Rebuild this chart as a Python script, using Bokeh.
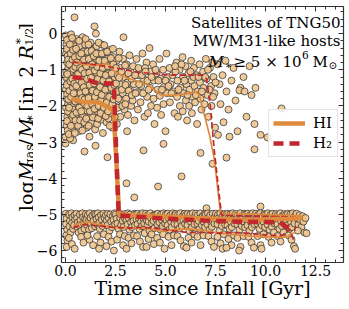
import math
from bokeh.plotting import figure
from bokeh.layouts import row
from bokeh.models import (Label, Legend, LegendItem, LinearAxis, SingleIntervalTicker, FixedTicker, Range1d)
from bokeh.embed import file_html
from bokeh.resources import INLINE

FONT = "DejaVu Serif"
ORANGE = "#de8b3e"
RED = "#c1272d"

# ---------------- data ----------------
# satellites with substantial gas (upper cloud)
upper_pts = [
    (0.02,-0.05),(0.05,-0.3),(0.03,-0.55),(0.08,-0.8),(0.04,-1.05),(0.1,-1.3),(0.02,-1.55),(0.06,-1.8),(0.03,-2.05),(0.09,-2.3),
    (0.05,-2.55),(0.0,-2.85),(0.15,-0.15),(0.18,-0.45),(0.2,-0.7),(0.14,-0.95),(0.22,-1.2),(0.16,-1.45),(0.2,-1.7),(0.13,-1.95),
    (0.21,-2.2),(0.17,-2.45),(0.24,-2.7),(0.28,-0.02),(0.3,-0.35),(0.32,-0.6),(0.27,-0.88),(0.35,-1.1),(0.3,-1.37),(0.33,-1.62),
    (0.26,-1.88),(0.36,-2.12),(0.29,-2.38),(0.34,-2.62),(0.4,-0.22),(0.43,-0.5),(0.45,0.45),(0.41,-0.78),(0.47,-1.02),(0.42,-1.25),
    (0.48,-1.52),(0.44,-1.77),(0.4,-2.0),(0.46,-2.28),(0.43,-2.52),(0.38,-2.95),(0.1,-0.62),(0.25,-1.05),(0.08,-1.68),(0.37,-1.8),
    (0.12,-2.15),(0.06,-0.42),(0.31,-0.82),(0.19,-1.58),(0.45,-2.1),(0.23,-2.9),(0.48,-0.35),(0.11,-2.68),(0.36,-1.48),(0.02,-1.2),
    (0.55,-0.15),(0.6,-0.55),(0.58,-0.95),(0.62,-1.3),(0.57,-1.65),(0.64,-2.0),(0.59,-2.35),(0.66,-2.7),(0.7,-0.35),(0.74,-0.75),
    (0.72,-1.1),(0.78,-1.48),(0.71,-1.85),(0.76,-2.2),(0.8,-2.5),(0.85,-0.1),(0.88,-0.5),(0.84,-0.9),(0.9,-1.25),(0.86,-1.62),
    (0.92,-1.98),(0.87,-2.3),(0.98,-0.3),(1.0,-0.7),(1.03,-1.05),(0.99,-1.4),(1.05,-1.78),(1.02,-2.12),(1.06,-2.6),(1.1,-0.5),
    (1.14,-0.88),(1.12,-1.22),(1.17,-1.58),(1.13,-1.95),(1.18,-2.32),(1.2,-2.85),(1.25,-0.25),(1.27,-0.65),(1.24,-1.0),(1.3,-1.38),
    (1.26,-1.75),(1.32,-2.1),(1.29,-2.45),(1.38,-0.45),(1.4,-0.82),(1.36,-1.18),(1.42,-1.55),(1.39,-1.92),(1.44,-2.25),(1.45,0.2),
    (1.48,-2.65),(0.68,-1.48),
    (1.52,0.0),(1.55,-0.35),(1.58,-0.72),(1.53,-1.08),(1.6,-1.42),(1.56,-1.8),(1.62,-2.15),(1.58,-2.5),(1.68,-0.55),(1.72,-0.92),
    (1.7,-1.28),(1.75,-1.65),(1.71,-2.02),(1.78,-2.38),(1.8,-0.3),(1.85,-0.75),(1.83,-1.12),(1.88,-1.5),(1.84,-1.88),(1.9,-2.25),
    (1.87,-2.75),(1.95,-0.52),(1.98,-0.95),(2.0,-1.35),(1.97,-1.72),(2.03,-2.08),(2.05,-2.45),(2.1,-0.7),(2.14,-1.1),(2.12,-1.55),
    (2.18,-1.95),(2.15,-2.35),(2.22,-0.45),(2.26,-0.9),(2.24,-1.3),(2.3,-1.75),(2.28,-2.2),(2.35,-2.6),(2.4,-0.65),(2.45,-1.2),
    (2.42,-1.6),(2.48,-2.02),
    (2.55,-0.75),(2.6,-1.15),(2.58,-1.6),(2.62,-2.05),(2.57,-2.5),(2.7,-0.5),(2.75,-0.95),(2.72,-1.4),(2.78,-1.85),(2.74,-2.3),
    (2.9,-0.1),(2.88,-0.7),(2.92,-1.2),(2.86,-1.65),(2.95,-2.1),(3.05,-0.85),(3.1,-1.35),(3.03,-1.8),(3.12,-2.25),(3.08,-2.7),
    (3.2,-0.6),(3.25,-1.05),(3.22,-1.55),(3.28,-2.0),(3.38,-0.9),(3.42,-1.4),(3.36,-1.85),(3.45,-2.4),(3.55,-0.7),(3.6,-1.15),
    (3.58,-1.62),(3.62,-2.1),(3.72,-1.0),(3.78,-1.45),(3.75,-1.9),(3.85,-0.55),(3.9,-1.25),(3.95,-2.3),
    (4.05,-0.8),(4.1,-1.3),(4.08,-1.75),(4.12,-2.2),(4.2,-0.4),(4.25,-1.05),(4.22,-1.5),(4.28,-2.0),(4.38,-0.85),(4.42,-1.3),
    (4.4,-1.8),(4.45,-2.5),(4.55,-1.1),(4.6,-1.55),(4.58,-2.05),(4.7,-0.7),(4.75,-1.25),(4.72,-1.72),(4.78,-2.25),(4.88,-1.0),
    (4.92,-1.48),(4.9,-1.95),(5.0,-2.7),(5.05,-0.55),(5.1,-1.2),(5.08,-1.65),(5.2,-0.95),(5.25,-1.4),(5.22,-1.9),(5.35,-1.15),
    (5.4,-1.6),(5.45,-2.2),
    (5.55,-0.8),(5.6,-1.3),(5.58,-1.75),(5.62,-2.3),(5.7,-1.0),(5.75,-1.5),(5.72,-2.0),(5.85,-0.65),(5.88,-1.2),(5.9,-1.65),
    (5.86,-2.15),(6.0,-0.9),(6.05,-1.4),(6.02,-1.85),(6.08,-2.4),(6.15,-1.1),(6.2,-1.55),(6.18,-2.0),(6.28,-0.75),(6.3,-1.3),
    (6.35,-1.75),(6.32,-2.2),(6.42,-0.95),(6.45,-1.45),(6.48,-1.9),(6.55,-1.15),(6.6,-1.6),(6.58,-2.5),(6.7,-0.85),(6.72,-1.35),
    (6.75,-1.8),(6.8,-2.1),(6.88,-1.05),(6.9,-1.5),(6.95,-1.95),(7.02,-0.7),(7.05,-1.25),(7.1,-1.7),(7.15,-2.3),(7.22,-0.95),
    (7.28,-1.45),(7.3,-2.0),(7.4,-1.2),(7.45,-1.65),(7.48,-2.6),
    (7.6,-0.85),(7.7,-1.4),(7.75,-1.95),(7.85,-1.15),(7.9,-2.45),(8.0,-0.75),(8.05,-1.6),(8.15,-2.1),(8.3,-1.3),(8.4,-0.95),
    (8.5,-1.85),(8.6,-2.7),(8.75,-1.5),(8.9,-1.2),(9.05,-2.3),(9.2,-0.9),(9.3,-1.7),(9.45,-2.5),(8.2,-2.85),(7.62,-2.8),
    (8.7,-1.57),(8.95,-1.6),(9.5,-1.5),(9.75,-2.8),(10.1,-2.87),(10.8,-2.07),
]
upper_pts_extra = [
    (0.07,-0.18),(0.13,-0.72),(0.09,-1.12),(0.05,-1.42),(0.14,-1.82),(0.07,-2.42),(0.16,-2.78),(0.22,-0.3),(0.26,-0.55),(0.19,-0.85),
    (0.24,-1.32),(0.28,-1.75),(0.18,-2.05),(0.27,-2.55),(0.33,-0.12),(0.38,-0.45),(0.35,-0.72),(0.39,-0.98),(0.34,-1.25),(0.41,-1.65),
    (0.38,-2.25),(0.47,-0.65),(0.49,-0.92),(0.44,-1.38),(0.49,-1.88),(0.5,-2.4),(0.47,-2.75),
    (0.53,-0.42),(0.56,-0.8),(0.63,-1.12),(0.54,-1.45),(0.61,-1.82),(0.55,-2.18),(0.63,-2.55),(0.68,-0.2),(0.69,-0.62),(0.73,-0.95),
    (0.67,-1.28),(0.75,-1.65),(0.69,-2.05),(0.73,-2.4),(0.79,-0.55),(0.82,-1.0),(0.81,-1.35),(0.83,-1.78),(0.79,-2.15),(0.84,-2.68),
    (0.93,-0.72),(0.95,-1.1),(0.91,-1.48),(0.96,-1.82),(0.94,-2.45),(1.01,-0.15),(1.04,-0.9),(1.08,-1.25),(1.0,-1.6),(1.09,-2.0),
    (1.04,-2.35),(1.15,-0.3),(1.16,-0.7),(1.19,-1.08),(1.21,-1.42),(1.15,-1.78),(1.22,-2.15),(1.16,-2.55),(1.3,-0.48),(1.34,-0.85),
    (1.28,-1.22),(1.35,-1.58),(1.33,-1.95),(1.37,-2.32),(1.41,-0.62),(1.46,-1.02),(1.43,-1.38),(1.47,-1.75),(1.45,-2.08),
    (1.54,-0.55),(1.59,-0.92),(1.61,-1.25),(1.57,-1.62),(1.65,-2.0),(1.63,-2.35),(1.66,-0.25),(1.69,-0.75),(1.74,-1.1),(1.73,-1.48),
    (1.77,-1.85),(1.76,-2.2),(1.82,-0.55),(1.86,-0.95),(1.89,-1.3),(1.81,-1.7),(1.92,-2.05),(1.94,-0.32),(1.96,-0.75),(2.01,-1.15),
    (1.99,-1.55),(2.06,-1.9),(2.01,-2.28),(2.08,-0.5),(2.11,-0.9),(2.17,-1.32),(2.19,-1.75),(2.13,-2.15),(2.21,-2.55),(2.27,-0.68),
    (2.31,-1.1),(2.29,-1.5),(2.34,-1.95),(2.37,-0.42),(2.39,-0.85),(2.44,-1.42),(2.41,-1.82),(2.46,-2.3),
    (2.52,-0.95),(2.53,-1.38),(2.64,-1.8),(2.66,-0.68),(2.68,-1.22),(2.8,-1.05),(2.82,-1.55),(2.84,-2.0),(2.98,-0.88),(3.0,-1.42),
    (2.99,-1.95),(3.15,-1.1),(3.16,-1.58),(3.3,-1.25),(3.32,-1.7),(3.48,-1.15),(3.5,-1.65),(3.65,-0.95),(3.68,-1.4),(3.82,-1.15),
    (3.88,-1.65),(3.98,-0.95),
    (5.5,-1.05),(5.65,-1.55),(5.8,-0.85),(5.95,-1.3),(6.1,-1.7),(6.25,-1.05),(6.4,-1.2),(6.52,-1.7),(6.65,-1.2),(6.82,-1.6),
    (6.98,-1.2),(7.12,-1.0),(7.2,-1.55),(7.35,-0.8),(7.38,-1.75),(7.5,-1.35),
    (4.0,-1.05),(4.15,-1.55),(4.3,-1.2),(4.5,-1.0),(4.65,-1.3),(4.82,-1.55),(5.0,-1.3),(5.15,-1.45),(5.3,-1.65),(5.48,-0.9),
]

# isolated points between the two populations
mid_pts = [
    (0.0,-3.04),(0.95,-3.26),(2.1,-3.42),(3.05,-4.14),(3.44,-4.53),(4.63,-4.23),(3.9,-3.23),(5.8,-3.95),
    (7.35,-3.6),(8.05,-3.43),(6.75,-3.3),(9.45,-3.2),(9.75,-4.78),(7.05,-4.83),(1.5,-3.1),(4.9,-3.05),
]

# gas-poor satellites (floor band)
band_pts = [
    (0.02,-4.98),(0.05,-5.12),(0.03,-5.27),(0.08,-5.42),(0.04,-5.58),(0.1,-5.72),(0.06,-5.9),(0.18,-5.0),(0.22,-5.18),(0.2,-5.33),
    (0.25,-5.5),(0.17,-5.65),(0.3,-4.97),(0.35,-5.08),(0.33,-5.24),(0.38,-5.4),(0.32,-5.82),(0.45,-5.02),(0.48,-5.15),(0.43,-5.3),(0.46,-5.95),
    (0.55,-4.98),(0.58,-5.1),(0.62,-5.22),(0.6,-5.36),(0.66,-5.5),(0.72,-5.0),(0.75,-5.16),(0.7,-5.3),(0.8,-5.45),(0.85,-4.97),
    (0.88,-5.08),(0.92,-5.25),(0.95,-5.4),(0.78,-5.62),(0.9,-5.78),(0.98,-5.12),
    (1.02,-4.99),(1.05,-5.15),(1.08,-5.3),(1.12,-5.02),(1.15,-5.2),(1.18,-5.42),(1.22,-4.97),(1.25,-5.1),(1.28,-5.26),(1.32,-5.38),
    (1.35,-5.03),(1.4,-5.18),(1.45,-4.98),(1.48,-5.33),(1.2,-5.7),(1.38,-5.85),(1.1,-5.58),
    (1.52,-5.0),(1.55,-5.13),(1.6,-5.28),(1.62,-4.97),(1.66,-5.08),(1.7,-5.22),(1.72,-5.4),(1.78,-5.02),(1.82,-5.15),(1.85,-5.32),
    (1.9,-4.98),(1.95,-5.1),(1.98,-5.25),(1.58,-5.6),(1.75,-5.78),(1.92,-5.55),(1.68,-5.95),
    (2.02,-5.02),(2.06,-5.17),(2.1,-5.3),(2.12,-4.98),(2.16,-5.1),(2.2,-5.45),(2.24,-5.0),(2.28,-5.2),(2.32,-5.35),(2.36,-5.05),
    (2.4,-5.15),(2.45,-4.97),(2.48,-5.28),(2.15,-5.62),(2.3,-5.75),(2.42,-6.0),(2.05,-5.88),
    (2.52,-5.0),(2.56,-5.12),(2.6,-5.25),(2.65,-5.4),(2.7,-4.98),(2.74,-5.1),(2.78,-5.3),(2.82,-5.02),(2.86,-5.18),(2.9,-5.35),
    (2.95,-4.99),(2.98,-5.12),(2.58,-5.7),(2.72,-5.55),(2.88,-5.85),(2.96,-5.6),
    (3.02,-5.03),(3.05,-5.16),(3.1,-5.28),(3.12,-4.97),(3.16,-5.1),(3.2,-5.42),(3.24,-5.0),(3.28,-5.22),(3.32,-5.35),(3.36,-5.06),
    (3.4,-5.18),(3.45,-4.98),(3.48,-5.3),(3.15,-5.65),(3.3,-5.8),(3.42,-5.58),(3.05,-5.95),
    (3.52,-5.0),(3.55,-5.14),(3.6,-5.27),(3.62,-4.98),(3.66,-5.1),(3.7,-5.4),(3.74,-5.02),(3.78,-5.2),(3.82,-5.33),(3.86,-4.97),
    (3.9,-5.12),(3.94,-5.25),(3.98,-5.05),(3.58,-5.6),(3.72,-5.75),(3.88,-5.9),(3.96,-5.52),
    (4.02,-4.98),(4.05,-5.15),(4.1,-5.3),(4.12,-5.02),(4.16,-5.2),(4.2,-5.45),(4.24,-4.97),(4.28,-5.1),(4.32,-5.25),(4.36,-5.04),
    (4.4,-5.18),(4.45,-5.38),(4.48,-5.0),(4.15,-5.68),(4.3,-5.55),(4.42,-5.82),(4.05,-5.9),
    (4.52,-5.02),(4.55,-5.13),(4.6,-5.28),(4.62,-4.98),(4.66,-5.08),(4.7,-5.22),(4.74,-5.42),(4.78,-5.0),(4.82,-5.15),(4.86,-5.32),
    (4.9,-4.97),(4.95,-5.1),(4.98,-5.25),(4.58,-5.65),(4.72,-5.78),(4.88,-5.55),(4.95,-5.95),
    (5.02,-5.0),(5.05,-5.16),(5.1,-5.3),(5.12,-4.98),(5.16,-5.1),(5.2,-5.42),(5.24,-5.03),(5.28,-5.2),(5.32,-5.35),(5.36,-4.97),
    (5.4,-5.12),(5.45,-5.26),(5.48,-5.0),(5.15,-5.62),(5.3,-5.85),(5.42,-5.58),
    (5.52,-4.99),(5.55,-5.14),(5.6,-5.28),(5.62,-5.02),(5.66,-5.1),(5.7,-5.38),(5.74,-4.97),(5.78,-5.2),(5.82,-5.32),(5.86,-5.05),
    (5.9,-5.17),(5.95,-4.98),(5.98,-5.26),(5.6,-5.6),(5.75,-5.72),(5.92,-5.88),
    (6.02,-5.02),(6.05,-5.15),(6.1,-5.3),(6.12,-4.98),(6.16,-5.1),(6.2,-5.45),(6.24,-5.0),(6.28,-5.22),(6.32,-5.36),(6.36,-4.97),
    (6.4,-5.12),(6.45,-5.27),(6.48,-5.04),(6.15,-5.65),(6.3,-5.78),(6.44,-5.55),(6.05,-5.92),
    (6.52,-4.98),(6.55,-5.13),(6.6,-5.26),(6.62,-5.02),(6.66,-5.18),(6.7,-5.4),(6.74,-4.97),(6.78,-5.1),(6.82,-5.3),(6.86,-5.05),
    (6.9,-5.2),(6.95,-4.99),(6.98,-5.35),(6.6,-5.62),(6.75,-5.85),(6.9,-5.58),
    (7.02,-5.0),(7.05,-5.15),(7.1,-5.28),(7.12,-4.97),(7.16,-5.1),(7.2,-5.42),(7.24,-5.02),(7.28,-5.2),(7.32,-5.34),(7.36,-4.98),
    (7.4,-5.12),(7.45,-5.25),(7.48,-5.05),(7.15,-5.6),(7.3,-5.75),(7.42,-5.9),
    (7.52,-4.98),(7.55,-5.13),(7.6,-5.27),(7.62,-5.02),(7.66,-5.1),(7.7,-5.45),(7.74,-4.97),(7.78,-5.18),(7.82,-5.32),(7.86,-5.04),
    (7.9,-5.15),(7.95,-4.99),(7.98,-5.28),(7.6,-5.62),(7.75,-5.8),(7.92,-5.55),(7.85,-5.95),
    (8.02,-5.02),(8.05,-5.16),(8.1,-5.3),(8.12,-4.98),(8.16,-5.1),(8.2,-5.4),(8.24,-5.0),(8.28,-5.22),(8.32,-5.35),(8.36,-4.97),
    (8.4,-5.12),(8.45,-5.25),(8.48,-5.04),(8.15,-5.68),(8.3,-5.85),(8.42,-5.58),(8.05,-5.92),
    (8.52,-4.99),(8.55,-5.14),(8.6,-5.28),(8.62,-5.03),(8.66,-5.18),(8.7,-5.42),(8.74,-4.97),(8.78,-5.1),(8.82,-5.32),(8.86,-5.05),
    (8.9,-5.2),(8.95,-4.98),(8.98,-5.36),(8.6,-5.65),(8.75,-5.9),(8.9,-5.6),(8.68,-6.0),
    (9.02,-5.0),(9.05,-5.15),(9.1,-5.3),(9.12,-4.98),(9.16,-5.1),(9.2,-5.45),(9.24,-5.02),(9.28,-5.22),(9.32,-5.35),(9.36,-4.97),
    (9.4,-5.12),(9.45,-5.27),(9.48,-5.04),(9.15,-5.62),(9.3,-5.78),(9.42,-5.92),
    (9.52,-4.98),(9.55,-5.13),(9.6,-5.26),(9.62,-5.02),(9.66,-5.18),(9.7,-5.4),(9.74,-4.97),(9.78,-5.1),(9.82,-5.3),(9.86,-5.05),
    (9.9,-5.2),(9.95,-4.99),(9.98,-5.35),(9.6,-5.6),(9.75,-5.85),(9.9,-5.55),(9.8,-5.95),
    (10.02,-5.0),(10.05,-5.15),(10.1,-5.28),(10.12,-4.97),(10.16,-5.1),(10.2,-5.42),(10.24,-5.02),(10.28,-5.2),(10.32,-5.34),(10.36,-4.98),
    (10.4,-5.12),(10.45,-5.25),(10.48,-5.05),(10.15,-5.62),(10.3,-5.78),(10.42,-5.5),
    (10.52,-4.99),(10.55,-5.13),(10.6,-5.27),(10.62,-5.02),(10.66,-5.1),(10.7,-5.4),(10.74,-4.97),(10.78,-5.18),(10.82,-5.32),(10.86,-5.04),
    (10.9,-5.15),(10.95,-4.99),(10.98,-5.28),(10.6,-5.6),(10.75,-5.75),(10.9,-5.5),
    (11.02,-5.02),(11.05,-5.16),(11.1,-5.3),(11.12,-4.98),(11.16,-5.1),(11.2,-5.4),(11.24,-5.0),(11.28,-5.22),(11.32,-5.35),(11.36,-4.97),
    (11.4,-5.12),(11.45,-5.25),(11.48,-5.04),(11.15,-5.58),(11.3,-5.7),(11.42,-5.88),(11.48,-5.95),
    (11.55,-4.98),(11.6,-5.12),(11.65,-5.28),(11.7,-5.02),(11.75,-5.15),(11.8,-5.35),(11.85,-5.05),(11.9,-5.2),(11.95,-5.5),(12.05,-5.52),
    (11.62,-5.45),(12.0,-5.1),
]

# running percentiles (16th, median, 84th) for HI and H2
hi_p84_x = [0.35,0.9,1.45,2.1,2.45,3.15,3.7,4.15,4.5,4.8,5.3,5.8,6.15,6.5,6.7,6.85,7.2,7.45,7.75,8.5,9.5,10.5,11.2,11.85]
hi_p84_y = [-0.78,-0.85,-0.88,-0.83,-1.05,-1.24,-1.33,-1.43,-1.58,-1.71,-1.71,-1.68,-1.66,-1.6,-1.7,-2.05,-2.8,-3.5,-4.97,-4.98,-5.0,-5.02,-5.03,-5.05]
h2_p84_x = [0.35,0.95,1.45,2.3,3.0,3.65,4.3,5.3,6.0,6.85,7.05,7.25,7.45,7.8,8.5,9.5,10.5,11.2,11.7]
h2_p84_y = [-0.78,-0.82,-0.86,-0.93,-1.0,-1.07,-1.1,-1.15,-1.15,-1.15,-1.25,-2.05,-3.3,-5.02,-5.04,-5.05,-5.06,-5.07,-5.08]
hi_med_x = [0.3,0.95,1.65,2.15,2.4,2.55,2.68,3.5,4.5,5.5,6.5,7.5,8.5,9.5,10.5,11.2,11.85]
hi_med_y = [-1.8,-1.9,-1.9,-2.04,-2.13,-3.6,-5.0,-5.03,-5.05,-5.07,-5.1,-5.12,-5.14,-5.15,-5.13,-5.12,-5.1]
h2_med_x = [0.35,0.95,1.45,2.15,2.42,2.55,2.66,3.5,4.5,5.5,6.95,8.0,8.85,9.8,10.7,11.2,11.5]
h2_med_y = [-1.2,-1.24,-1.35,-1.38,-1.38,-3.5,-5.03,-5.06,-5.1,-5.13,-5.17,-5.19,-5.2,-5.21,-5.22,-5.4,-5.4]
hi_p16_x = [0.4,1.05,1.6,2.3,3.2,3.95,4.8,5.5,6.2,6.95,7.7,8.5,9.3,10.2,11.0,11.45]
hi_p16_y = [-5.3,-5.2,-5.27,-5.36,-5.37,-5.38,-5.46,-5.42,-5.4,-5.45,-5.52,-5.56,-5.6,-5.63,-5.63,-5.5]
h2_p16_x = [0.4,0.95,1.6,2.3,3.15,3.8,4.45,5.3,6.15,6.85,7.7,8.5,9.3,10.2,10.85,11.2,11.45]
h2_p16_y = [-5.36,-5.28,-5.32,-5.35,-5.38,-5.36,-5.38,-5.45,-5.5,-5.5,-5.52,-5.5,-5.53,-5.58,-5.58,-5.4,-5.77]

x_ticks = [0, 2.5, 5, 7.5, 10, 12.5]
x_tick_labels = ["0.0", "2.5", "5.0", "7.5", "10.0", "12.5"]
y_ticks = [0, -1, -2, -3, -4, -5, -6]
y_tick_labels = ["0", "\u22121", "\u22122", "\u22123", "\u22124", "\u22125", "\u22126"]

# ---------------- layout ----------------
W, H = 349, 309
LW = 33                      # strip holding the y-axis label
X0, X1 = -0.2, 13.9
Y0, Y1 = -6.33, 0.75
FL, FT = 59, 6               # frame left / top on the page
FW, FH = 282, 256

def dx(sx):
    return X0 + (sx - FL) * (X1 - X0) / FW

def dy(sy):
    return Y1 - (sy - FT) * (Y1 - Y0) / FH

p = figure(frame_width=FW, frame_height=FH, x_range=Range1d(X0, X1), y_range=Range1d(Y0, Y1),
           output_backend="svg", toolbar_location=None,
           min_border_left=FL - LW, min_border_right=W - FL - FW, min_border_top=FT,
           min_border_bottom=H - FT - FH)
p.background_fill_color = "white"
p.border_fill_color = "white"
p.xgrid.visible = False
p.ygrid.visible = False
p.outline_line_color = "#333333"
p.outline_line_width = 1.2

def style_axis(ax, ticker, standoff):
    ax.ticker = ticker
    ax.axis_line_color = None
    ax.major_tick_in = 5
    ax.major_tick_out = 0
    ax.minor_tick_in = 3
    ax.minor_tick_out = 0
    ax.major_tick_line_color = "#333333"
    ax.minor_tick_line_color = "#333333"
    ax.major_label_text_font = FONT
    ax.major_label_text_font_style = "normal"
    ax.major_label_text_color = "black"
    ax.major_label_text_font_size = "14px"
    ax.major_label_standoff = standoff

style_axis(p.xaxis[0], SingleIntervalTicker(interval=2.5, num_minor_ticks=5), 2)
style_axis(p.yaxis[0], SingleIntervalTicker(interval=1, num_minor_ticks=5), 4)
p.xaxis[0].major_label_overrides = {t: l for t, l in zip(x_ticks, x_tick_labels)}
p.yaxis[0].major_label_overrides = {t: l for t, l in zip(y_ticks, y_tick_labels)}
p.xaxis[0].axis_label = "Time since Infall [Gyr]"
p.xaxis[0].axis_label_text_font = FONT
p.xaxis[0].axis_label_text_font_size = "19px"
p.xaxis[0].axis_label_text_font_style = "normal"
p.xaxis[0].axis_label_text_color = "black"
p.xaxis[0].axis_label_standoff = -2

# tick marks (no labels) mirrored on the top and right edges
x_minor = [i * 0.5 for i in range(0, 28) if (i * 0.5) not in x_ticks]
y_minor = [-i * 0.2 for i in range(-3, 32) if i % 5 != 0]

def mirror_axis(vals, length, place):
    ax = LinearAxis(ticker=FixedTicker(ticks=[], minor_ticks=vals))
    ax.axis_line_color = None
    ax.major_tick_line_color = None
    ax.minor_tick_in = length
    ax.minor_tick_out = 0
    ax.minor_tick_line_color = "#333333"
    ax.major_label_standoff = 0
    p.add_layout(ax, place)

mirror_axis(x_ticks, 5, "above")
mirror_axis(x_minor, 3, "above")
mirror_axis(y_ticks, 5, "right")
mirror_axis(y_minor, 3, "right")

# ---------------- scatter ----------------
pts = upper_pts + upper_pts_extra + mid_pts + band_pts
p.scatter([q[0] for q in pts], [q[1] for q in pts], marker="circle", size=7,
          fill_color="#f0c690", fill_alpha=0.92, line_color="#333333", line_alpha=0.85, line_width=0.9)

# ---------------- percentile lines ----------------
p.line(hi_p16_x, hi_p16_y, line_color=ORANGE, line_width=1.7)
p.line(h2_p16_x, h2_p16_y, line_color=RED, line_width=1.7, line_dash="6 3")
p.line(hi_p84_x, hi_p84_y, line_color=ORANGE, line_width=1.7)
p.line(h2_p84_x, h2_p84_y, line_color=RED, line_width=1.7, line_dash="6 3")
r_hi = p.line(hi_med_x, hi_med_y, line_color=ORANGE, line_width=4.5)
r_h2 = p.line(h2_med_x, h2_med_y, line_color=RED, line_width=4.5, line_dash="10 6")

legend = Legend(items=[LegendItem(label="HI", renderers=[r_hi]),
                       LegendItem(label="H\u2082", renderers=[r_h2])],
                location=(207, 105), orientation="vertical",
                label_text_font=FONT, label_text_font_size="15px", label_text_color="black",
                glyph_width=32, glyph_height=18, label_height=18, label_standoff=8,
                padding=4, spacing=2, margin=0,
                border_line_color="#cccccc", border_line_width=1,
                background_fill_color="white", background_fill_alpha=0.85)
p.add_layout(legend)

# ---------------- annotation text (top right) ----------------
def add_text(fig, text, x, y, size, align="left", style="normal", angle=0.0):
    fig.add_layout(Label(x=x, y=y, text=text, text_align=align, text_baseline="alphabetic",
                         text_font=FONT, text_font_size=f"{size}px", text_font_style=style,
                         text_color="black", angle=angle))

add_text(p, "Satellites of TNG50", dx(338), dy(22), 15, align="right")
add_text(p, "MW/M31-like hosts", dx(338), dy(40.5), 15, align="right")
add_text(p, "M", dx(206), dy(61), 15, style="italic")
add_text(p, "\u2217", dx(222.5), dy(64), 10.5)
add_text(p, "\u2265 5 \u00d7 10", dx(231), dy(61), 15)
add_text(p, "6", dx(299.5), dy(54), 10.5)
add_text(p, "M", dx(310), dy(61), 15)
add_text(p, "\u2299", dx(326), dy(64), 10.5)

# ---------------- y-axis label strip ----------------
lf = figure(width=LW, height=H, x_range=Range1d(0, LW), y_range=Range1d(H, 0),
            output_backend="svg", toolbar_location=None, min_border=0,
            x_axis_location=None, y_axis_location=None)
lf.grid.visible = False
lf.outline_line_color = None
lf.background_fill_color = "white"
lf.border_fill_color = "white"

A = math.pi / 2
BX = 25
add_text(lf, "log", BX, 247, 19, angle=A)
add_text(lf, "M", BX, 210, 19, style="italic", angle=A)
add_text(lf, "gas", BX + 4, 193.5, 13, angle=A)
add_text(lf, "/", BX, 168, 19, angle=A)
add_text(lf, "M", BX, 158, 19, style="italic", angle=A)
add_text(lf, "\u2217", BX + 4, 140.5, 13, angle=A)
add_text(lf, "[in", BX, 127, 19, angle=A)
add_text(lf, "2", BX, 86, 19, angle=A)
add_text(lf, "R", BX, 64, 19, style="italic", angle=A)
add_text(lf, "\u2217", BX - 8, 47, 12, angle=A)
add_text(lf, "1/2", BX + 3.5, 47, 11, angle=A)
add_text(lf, "]", BX, 29, 19, angle=A)

layout = row(lf, p, spacing=0)
open("out.html", "w").write(file_html(layout, INLINE))
